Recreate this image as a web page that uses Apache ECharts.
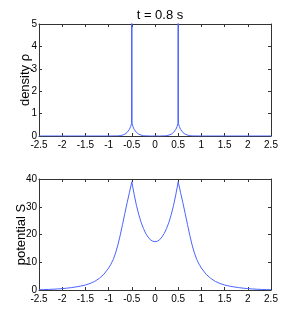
<!DOCTYPE html>
<html><head><meta charset="utf-8">
<script src="https://cdn.jsdelivr.net/npm/echarts@6/dist/echarts.min.js"></script>
<style>html,body{margin:0;padding:0;background:#fff}#c{width:300px;height:327px}</style>
</head><body><div id="c"></div>
<script>
var titleText = 't = 0.8 s';
var xTicks = { min: -2.5, max: 2.5, interval: 0.5 };
var densX = [-2.5, -1, -0.8, -0.75, -0.7, -0.65, -0.6, -0.55, -0.525, -0.505, -0.5, -0.495, -0.475, -0.45, -0.4, -0.35, -0.3, -0.25, -0.2, -0.1, 0,
             0.1, 0.2, 0.25, 0.3, 0.35, 0.4, 0.45, 0.475, 0.495, 0.5, 0.505, 0.525, 0.55, 0.6, 0.65, 0.7, 0.75, 0.8, 1, 2.5];
var densY = [0, 0, 0.005, 0.015, 0.04, 0.08, 0.16, 0.30, 0.42, 0.57, 60, 0.57, 0.42, 0.30, 0.16, 0.08, 0.04, 0.015, 0.005, 0, 0,
             0, 0.005, 0.015, 0.04, 0.08, 0.16, 0.30, 0.42, 0.57, 60, 0.57, 0.42, 0.30, 0.16, 0.08, 0.04, 0.015, 0.005, 0, 0];
var potX = [-2.5, -2.4, -2.3, -2.2, -2.1, -2.0, -1.9, -1.8, -1.7, -1.6, -1.5, -1.4, -1.3, -1.2, -1.1, -1.0, -0.95, -0.9, -0.85, -0.8, -0.75, -0.7, -0.65, -0.6, -0.55, -0.5,
            -0.45, -0.4, -0.35, -0.3, -0.25, -0.2, -0.15, -0.1, -0.05, 0, 0.05, 0.1, 0.15, 0.2, 0.25, 0.3, 0.35, 0.4, 0.45,
            0.5, 0.55, 0.6, 0.65, 0.7, 0.75, 0.8, 0.85, 0.9, 0.95, 1.0, 1.1, 1.2, 1.3, 1.4, 1.5, 1.6, 1.7, 1.8, 1.9, 2.0, 2.1, 2.2, 2.3, 2.4, 2.5];
var potY = [0.1, 0.14, 0.2, 0.28, 0.38, 0.5, 0.66, 0.87, 1.12, 1.42, 1.8, 2.35, 3.1, 4.2, 5.7, 7.9, 9.3, 11.0, 13.3, 16.2, 19.7, 23.6, 27.6, 31.5, 35.2, 39,
            34.5, 30.5, 27.2, 24.4, 22.2, 20.4, 19.1, 18.1, 17.6, 17.4, 17.6, 18.1, 19.1, 20.4, 22.2, 24.4, 27.2, 30.5, 34.5,
            39, 35.2, 31.5, 27.6, 23.6, 19.7, 16.2, 13.3, 11.0, 9.3, 7.9, 5.7, 4.2, 3.1, 2.35, 1.8, 1.42, 1.12, 0.87, 0.66, 0.5, 0.38, 0.28, 0.2, 0.14, 0.1];
var densTicks = { min: 0, max: 5, interval: 1 };
var potTicks = { min: 0, max: 40, interval: 10 };

var FONT = '"Liberation Sans Narrow", "Liberation Sans", Arial, sans-serif';
var AX = '#333';
var lineColor = '#4a64ff';

function zip(a, b) { return a.map(function (v, i) { return [v, b[i]]; }); }
function xAx(grid, pos, show) {
  return { type: 'value', gridIndex: grid, position: pos, min: xTicks.min, max: xTicks.max, interval: xTicks.interval,
    axisLine: { show: true, onZero: false, lineStyle: { color: AX, width: 1 } },
    axisTick: { show: true, inside: true, length: 3, lineStyle: { color: AX } },
    axisLabel: { show: show, fontFamily: FONT, fontSize: 10, color: '#000', margin: 4 },
    splitLine: { show: false } };
}
function yAx(grid, pos, t, name, show, gap) {
  return { type: 'value', gridIndex: grid, position: pos, min: t.min, max: t.max, interval: t.interval,
    name: show ? name : '', nameLocation: 'middle', nameGap: gap || 8, nameMoveOverlap: false,
    nameTextStyle: { fontFamily: '"Liberation Sans", Arial, sans-serif', fontSize: 13, color: '#000' },
    axisLine: { show: true, onZero: false, lineStyle: { color: AX, width: 1 } },
    axisTick: { show: true, inside: true, length: 3, lineStyle: { color: AX } },
    axisLabel: { show: show, fontFamily: FONT, fontSize: 10, color: '#000', margin: 2 },
    splitLine: { show: false } };
}
var chart = echarts.init(document.getElementById('c'), null, { renderer: 'canvas' });
chart.setOption({
  animation: false,
  backgroundColor: '#fff',
  title: { text: titleText, left: 155, textAlign: 'center', top: 4,
    textStyle: { fontFamily: FONT, fontSize: 13, fontWeight: 'normal', color: '#000' } },
  grid: [
    { left: 39, top: 24, width: 232, height: 112, containLabel: false, outerBoundsMode: 'none' },
    { left: 39, top: 179, width: 232, height: 111, containLabel: false, outerBoundsMode: 'none' }
  ],
  xAxis: [xAx(0, 'bottom', true), xAx(0, 'top', false), xAx(1, 'bottom', true), xAx(1, 'top', false)],
  yAxis: [yAx(0, 'left', densTicks, 'density ρ', true, 7), yAx(0, 'right', densTicks, '', false),
          yAx(1, 'left', potTicks, 'potential S', true, 11), yAx(1, 'right', potTicks, '', false)],
  series: [
    { type: 'line', xAxisIndex: 0, yAxisIndex: 0, data: zip(densX, densY), showSymbol: false, clip: true,
      lineStyle: { color: lineColor, width: 1 } },
    { type: 'line', xAxisIndex: 2, yAxisIndex: 2, data: zip(potX, potY), showSymbol: false, clip: true,
      lineStyle: { color: lineColor, width: 1 } }
  ]
});
</script></body></html>
